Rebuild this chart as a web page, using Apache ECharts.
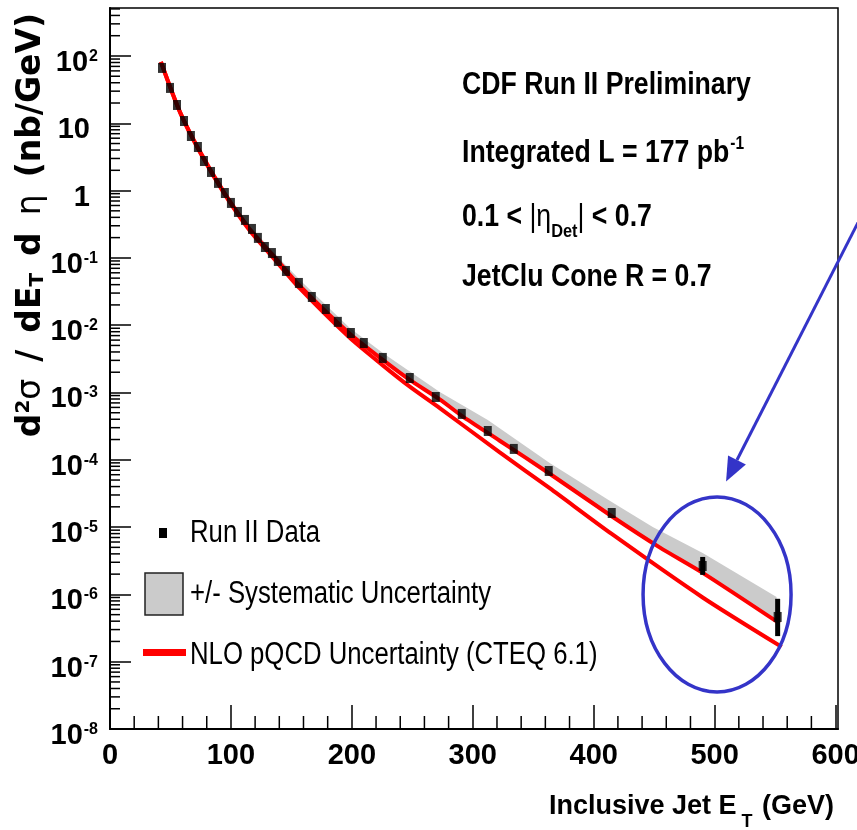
<!DOCTYPE html>
<html>
<head>
<meta charset="utf-8">
<script src="https://cdn.jsdelivr.net/npm/echarts@6/dist/echarts.min.js"></script>
<style>
html, body { margin: 0; padding: 0; background: #fff; }
#chart { width: 857px; height: 830px; }
</style>
</head>
<body>
<div id="chart"></div>
<script>
// Run II data points (ET in GeV, cross section in nb/GeV)
const dataEt = [43.0, 49.6, 55.4, 61.2, 66.9, 72.7, 77.7, 83.5, 89.3, 95.0, 100.0, 105.8, 111.6, 117.4, 122.3, 128.1, 133.9, 138.8, 145.5, 156.2, 166.9, 178.5, 188.4, 199.2, 209.9, 225.6, 247.9, 269.4, 290.9, 312.4, 333.9, 362.8, 414.9, 490.1, 552.1]
const dataXs = [66.4, 33.5, 18.7, 10.8, 6.47, 4.44, 2.75, 1.89, 1.30, 0.92, 0.655, 0.481, 0.366, 0.269, 0.198, 0.145, 0.118, 0.090, 0.0639, 0.0424, 0.0262, 0.0174, 0.0112, 0.00766, 0.00544, 0.00326, 0.00164, 0.000857, 0.000480, 0.000268, 0.000145, 6.82e-5, 1.62e-5, 2.64e-6, 4.62e-7]

// visible statistical error bars
const errEt = [490.1, 552.1]
const errLow = [1.95e-6, 2.4e-7]
const errHigh = [3.6e-6, 8.6e-7]

// NLO pQCD uncertainty, upper and lower curves
const upEt = [42.1, 57.9, 74.4, 95.0, 115.7, 135, 157, 198.3, 225.6, 247.9, 272.7, 290.9, 322.3, 363.6, 414.9, 454.5, 490.1, 553.7]
const upXs = [81.5, 14.7, 3.8, 0.90, 0.265, 0.108, 0.0382, 0.00745, 0.00305, 0.00154, 0.00079, 0.00045, 0.000192, 6.2e-5, 1.45e-5, 5.0e-6, 2.09e-6, 3.7e-7]
const loEt = [42.1, 57.9, 74.4, 95.0, 115.7, 135, 157, 198.3, 225.6, 247.9, 272.7, 322.3, 363.6, 414.9, 490.1, 555.4]
const loXs = [81.5, 14.5, 3.72, 0.87, 0.252, 0.100, 0.0351, 0.00648, 0.00253, 0.00122, 0.000585, 0.000129, 3.78e-5, 7.9e-6, 9.0e-7, 1.66e-7]

// systematic uncertainty band
const bandEt = [42.1, 57.9, 74.4, 95.0, 115.7, 135, 157, 198.3, 225.6, 272.7, 312.4, 363.6, 414.9, 448.8, 490.1, 551.2]
const bandHigh = [84.3, 15.6, 4.05, 0.97, 0.298, 0.122, 0.047, 0.00908, 0.00386, 0.00102, 0.00039, 8.95e-5, 2.36e-5, 1.0e-5, 4.12e-6, 9.14e-7]
const bandLow = [81.5, 14.7, 3.8, 0.90, 0.265, 0.108, 0.0382, 0.00745, 0.00305, 0.00079, 0.00025, 6.2e-5, 1.45e-5, 5.8e-6, 2.09e-6, 3.8e-7]

// axis ticks
const yTickExps = [-8, -7, -6, -5, -4, -3, -2, -1, 0, 1, 2]
const xMax = 602
const yMax = 516

const SANS = '"Liberation Sans", Arial, sans-serif'
const BLUE = "#3434c8"

// minor ticks (log axis: 2..9 per decade, x axis: every 20 GeV)
let yMinor = []
for (let e = -8; e <= 2; e++) {
	for (let k = 2; k <= 9; k++) {
		const v = k * Math.pow(10, e)
		if (v < yMax) yMinor.push([0, v])
	}
}
let xMinor = []
for (let v = 20; v < 600; v += 20) {
	if (v % 100 !== 0) xMinor.push([v, 1e-8])
}

const chart = echarts.init(document.getElementById("chart"))

const option = {
	animation: false,
	backgroundColor: "#fff",
	grid: {
		left: 110,
		right: 19,
		top: 8,
		bottom: 101,
		outerBoundsMode: "none",
		containLabel: false,
		show: true,
		borderColor: "#000",
		borderWidth: 1.5
	},
	xAxis: {
		type: "value",
		min: 0,
		max: xMax,
		interval: 100,
		axisLine: { lineStyle: { color: "#000", width: 2 } },
		axisTick: { inside: true, length: 24, lineStyle: { color: "#000", width: 1.5 } },
		splitLine: { show: false },
		axisLabel: {
			showMaxLabel: false,
			margin: 12,
			color: "#000",
			fontFamily: SANS,
			fontWeight: "bold",
			fontSize: 29
		},
		name: "{b|Inclusive Jet E}{sub| T}{b| (GeV)}",
		nameLocation: "end",
		nameGap: -4,
		nameMoveOverlap: false,
		nameTextStyle: {
			align: "right",
			verticalAlign: "top",
			padding: [64, 0, 0, 0],
			rich: {
				b: { fontFamily: SANS, fontWeight: "bold", fontSize: 27, lineHeight: 28, color: "#000", verticalAlign: "top" },
				sub: { fontFamily: SANS, fontWeight: "bold", fontSize: 18, lineHeight: 18, color: "#000", verticalAlign: "top", padding: [20, 2, 0, 0] }
			}
		}
	},
	yAxis: {
		type: "log",
		logBase: 10,
		min: 1e-8,
		max: yMax,
		interval: 1,
		axisLine: { lineStyle: { color: "#000", width: 2 } },
		axisTick: { inside: true, length: 21, lineStyle: { color: "#000", width: 1.5 } },
		splitLine: { show: false },
		axisLabel: {
			showMaxLabel: false,
			margin: 12,
			padding: [14, 0, 0, 0],
			formatter: function (v) {
				const lg = Math.log10(v)
				const e = Math.round(lg)
				if (Math.abs(lg - e) > 1e-6 || yTickExps.indexOf(e) < 0) return ""
				if (e === 0) return "{b|1}{gap| }"
				if (e === 1) return "{b|10}{gap| }"
				return "{b|10}{sup|" + e + "}"
			},
			rich: {
				b: { fontFamily: SANS, fontWeight: "bold", fontSize: 29, lineHeight: 29, color: "#000", verticalAlign: "bottom" },
				sup: { fontFamily: SANS, fontWeight: "bold", fontSize: 16, lineHeight: 16, color: "#000", verticalAlign: "top", padding: [0, 0, 26, 1] },
				gap: { fontSize: 16, lineHeight: 16, width: 8, verticalAlign: "top", padding: [0, 0, 26, 0] }
			}
		},
		name: "{b|d}{sup|2}{g|σ}{sp| }{b|/}{sp| }{b|dE}{sub|T}{sp| }{b|d}{sp| }{g|η}{sp| }{b|(nb/GeV)}",
		nameLocation: "end",
		nameGap: -5,
		nameRotate: 90,
		nameMoveOverlap: false,
		nameTextStyle: {
			align: "right",
			verticalAlign: "bottom",
			padding: [0, 0, 62, 0],
			rich: {
				b: { fontFamily: "DejaVu Sans", fontWeight: "bold", fontSize: 33, lineHeight: 34, color: "#000", verticalAlign: "middle" },
				g: { fontFamily: "DejaVu Sans", fontSize: 33, lineHeight: 34, color: "#000", verticalAlign: "middle" },
				sp: { fontFamily: "DejaVu Sans", fontSize: 33, lineHeight: 34, width: 17, verticalAlign: "middle" },
				sup: { fontFamily: "DejaVu Sans", fontWeight: "bold", fontSize: 20, lineHeight: 20, color: "#000", verticalAlign: "top" },
				sub: { fontFamily: "DejaVu Sans", fontWeight: "bold", fontSize: 20, lineHeight: 20, color: "#000", verticalAlign: "bottom" }
			}
		}
	},
	series: [
		{
			// y minor ticks
			type: "custom",
			silent: true,
			data: yMinor,
			renderItem: function (params, api) {
				const p = api.coord([0, api.value(1)])
				return {
					type: "line",
					shape: { x1: p[0], y1: p[1], x2: p[0] + 10, y2: p[1] },
					style: { stroke: "#000", lineWidth: 1.5 }
				}
			},
			z: 5
		},
		{
			// x minor ticks
			type: "custom",
			silent: true,
			data: xMinor,
			renderItem: function (params, api) {
				const p = api.coord([api.value(0), 1e-8])
				return {
					type: "line",
					shape: { x1: p[0], y1: p[1], x2: p[0], y2: p[1] - 13 },
					style: { stroke: "#000", lineWidth: 1.5 }
				}
			},
			z: 5
		},
		{
			name: "+/- Systematic Uncertainty",
			type: "custom",
			silent: true,
			data: [[bandEt[0], bandLow[0]]],
			renderItem: function (params, api) {
				const top = bandEt.map((x, i) => api.coord([x, bandHigh[i]]))
				const bot = bandEt.map((x, i) => api.coord([x, bandLow[i]])).reverse()
				return {
					type: "polygon",
					shape: { points: top.concat(bot) },
					style: { fill: "#cbcbcb" }
				}
			},
			z: 1
		},
		{
			name: "NLO pQCD Uncertainty (CTEQ 6.1)",
			type: "line",
			data: upEt.map((x, i) => [x, upXs[i]]),
			smooth: 0.25,
			showSymbol: false,
			lineStyle: { color: "#ff0000", width: 4 },
			z: 2
		},
		{
			name: "NLO pQCD lower",
			type: "line",
			data: loEt.map((x, i) => [x, loXs[i]]),
			smooth: 0.25,
			showSymbol: false,
			lineStyle: { color: "#ff0000", width: 4 },
			z: 2
		},
		{
			name: "errors",
			type: "custom",
			silent: true,
			data: errEt.map((x, i) => [x, errLow[i], errHigh[i]]),
			renderItem: function (params, api) {
				const a = api.coord([api.value(0), api.value(1)])
				const b = api.coord([api.value(0), api.value(2)])
				return {
					type: "line",
					shape: { x1: a[0], y1: a[1], x2: b[0], y2: b[1] },
					style: { stroke: "#000", lineWidth: 5 }
				}
			},
			z: 3
		},
		{
			name: "Run II Data",
			type: "scatter",
			data: dataEt.map((x, i) => [x, dataXs[i]]),
			symbol: "rect",
			symbolSize: [8, 10],
			itemStyle: { color: "#000" },
			z: 4
		}
	]
}

chart.setOption(option)

// annotation anchored at ET = 502 GeV, 1e-6 nb/GeV
const c = chart.convertToPixel({ gridIndex: 0 }, [502, 1e-6])
const tip = [c[0] + 9, c[1] - 113]
const start = [c[0] + 142, c[1] - 374]
const dx = tip[0] - start[0]
const dy = tip[1] - start[1]
const len = Math.sqrt(dx * dx + dy * dy)
const ux = dx / len
const uy = dy / len
const base = [tip[0] - 24 * ux, tip[1] - 24 * uy]

const boldBase = { fontFamily: SANS, fontWeight: "bold", fontSize: 31, lineHeight: 34, fill: "#000" }
const legendStyle = { fontFamily: SANS, fontSize: 31, fill: "#000", verticalAlign: "middle" }

function infoText(y, text, rich) {
	return {
		type: "text", x: 462, y: y, scaleX: 0.86,
		style: Object.assign({}, boldBase, { text: text, verticalAlign: "middle", rich: rich })
	}
}
function legendLabel(y, text) {
	return { type: "text", x: 190, y: y, scaleX: 0.83, style: Object.assign({ text: text }, legendStyle) }
}

const elements = [
	infoText(85, "CDF Run II Preliminary"),
	infoText(152, "{b|Integrated L = 177 pb}{sup|-1}", {
		b: Object.assign({}, boldBase, { verticalAlign: "bottom" }),
		sup: { fontFamily: SANS, fontWeight: "bold", fontSize: 18, lineHeight: 18, fill: "#000", verticalAlign: "top", padding: [0, 0, 22, 1] }
	}),
	infoText(219, "{b|0.1 < }{g||η}{sub|Det}{g||}{b| < 0.7}", {
		b: Object.assign({}, boldBase, { verticalAlign: "top" }),
		g: { fontFamily: SANS, fontSize: 31, lineHeight: 34, fill: "#000", verticalAlign: "top" },
		sub: { fontFamily: SANS, fontWeight: "bold", fontSize: 19, lineHeight: 19, fill: "#000", verticalAlign: "top", padding: [20, 0, 0, 0] }
	}),
	infoText(277, "JetClu Cone R = 0.7"),
	// legend
	{ type: "rect", shape: { x: 159, y: 528, width: 8, height: 10 }, style: { fill: "#000" } },
	legendLabel(533, "Run II Data"),
	{ type: "rect", shape: { x: 145, y: 573, width: 38, height: 42 }, style: { fill: "#cbcbcb", stroke: "#222", lineWidth: 1.5 } },
	legendLabel(594, "+/- Systematic Uncertainty"),
	{ type: "rect", shape: { x: 143, y: 649, width: 43, height: 7 }, style: { fill: "#ff0000" } },
	legendLabel(655, "NLO pQCD Uncertainty (CTEQ 6.1)"),
	// highlighted region
	{
		type: "ellipse",
		shape: { cx: c[0], cy: c[1], rx: 74, ry: 97.5 },
		style: { fill: null, stroke: BLUE, lineWidth: 3.5 },
		z: 10
	},
	{
		type: "line",
		shape: { x1: start[0], y1: start[1], x2: base[0], y2: base[1] },
		style: { stroke: BLUE, lineWidth: 3 },
		z: 10
	},
	{
		type: "polygon",
		shape: {
			points: [
				tip,
				[base[0] + 10 * uy, base[1] - 10 * ux],
				[base[0] - 10 * uy, base[1] + 10 * ux]
			]
		},
		style: { fill: BLUE },
		z: 10
	}
]

chart.setOption({ graphic: { elements: elements } })

window.addEventListener("resize", function () {
	chart.resize()
})
</script>
</body>
</html>
